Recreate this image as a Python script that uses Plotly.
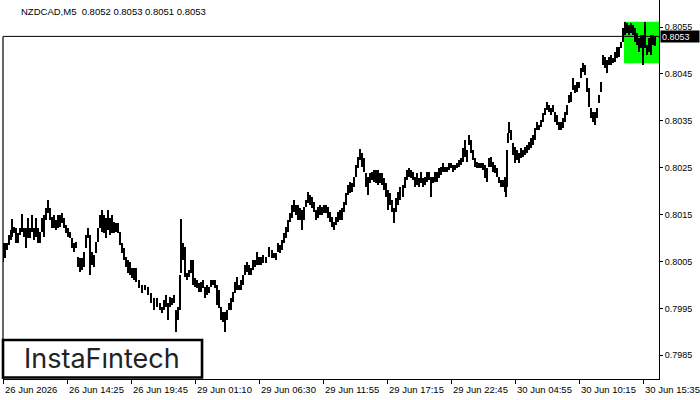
import plotly.graph_objects as go
import numpy as np

symbol_title = "NZDCAD,M5  0.8052 0.8053 0.8051 0.8053"
last_price = 0.8053
last_price_label = "0.8053"

# M5 bar number (from first bar on chart), sampled high / low
bar_no = [0, 2, 4, 6, 8, 9, 11, 13, 15, 17,
          19, 21, 23, 25, 27, 29, 31, 33, 35, 37,
          39, 41, 43, 45, 47, 49, 51, 53, 55, 57,
          59, 61, 63, 65, 67, 69, 71, 73, 75, 77,
          79, 81, 83, 85, 87, 89, 91, 93, 95, 97,
          99, 101, 103, 105, 107, 109, 111, 113, 115, 117,
          119, 121, 123, 125, 127, 129, 131, 133, 136, 139,
          142, 145, 148, 151, 154, 157, 159, 161, 163, 165,
          167, 169, 171, 173, 175, 177, 178, 180, 182, 184,
          186, 188, 190, 192, 194, 196, 198, 200, 202, 204,
          206, 208, 210, 212, 214, 216, 218, 220, 222, 224,
          226, 228, 230, 232, 234, 236, 238, 240, 242, 244,
          246, 248, 250, 252, 254, 256, 258, 260, 263, 266,
          269, 271, 273, 275, 277, 279, 281, 283, 285, 287,
          289, 291, 293, 295, 297, 299, 301, 303, 305, 307,
          309, 311, 313, 315, 317, 319, 321, 323, 325, 327,
          329, 331, 333, 335, 337, 339, 341, 343, 345, 347,
          349, 351, 353, 355, 357, 359, 361, 363, 365, 367,
          369, 371, 373, 375, 377, 379, 381, 383, 385, 387,
          389, 391, 393, 395, 397, 400, 402, 404, 406, 408,
          410, 412, 414, 416, 418, 420, 422, 424, 426, 428,
          430, 432, 434, 436, 438, 440, 442, 444, 446, 448,
          450, 452, 454, 456, 458, 460, 462, 464, 466, 468,
          470, 472, 474, 476, 478, 480, 482, 484, 486, 488,
          490, 492, 494, 496, 498, 500, 502, 503, 504, 505,
          506, 508, 510, 512, 514, 516, 518, 520, 522, 524,
          526, 528, 530, 532, 534, 536, 538, 540, 542, 544,
          546, 548, 550, 552, 554, 556, 558, 560, 562, 564,
          566, 568, 570, 572, 574, 576, 578, 580, 582, 584,
          586, 588, 590, 592, 594, 596, 598, 600, 602, 604,
          606, 608, 610, 612, 614, 616, 618, 620, 622, 624,
          626, 628, 630, 632, 634, 636, 638, 640, 642, 644,
          646, 648, 650, 652]

bar_high = [0.80089, 0.80089, 0.80089, 0.80107, 0.80117, 0.80141, 0.80124, 0.80121, 0.80111, 0.80121,
            0.80151, 0.80121, 0.80121, 0.80143, 0.80121, 0.80149, 0.80121, 0.80143, 0.80121, 0.80113,
            0.80143, 0.80149, 0.80164, 0.80181, 0.80164, 0.80145, 0.80149, 0.80139, 0.80149, 0.80149,
            0.80153, 0.80143, 0.80128, 0.80121, 0.80113, 0.80100, 0.80089, 0.80092, 0.80060, 0.80058,
            0.80058, 0.80070, 0.80107, 0.80121, 0.80107, 0.80070, 0.80064, 0.80092, 0.80121, 0.80149,
            0.80160, 0.80149, 0.80143, 0.80160, 0.80143, 0.80149, 0.80134, 0.80132, 0.80132, 0.80113,
            0.80089, 0.80079, 0.80060, 0.80054, 0.80049, 0.80036, 0.80036, 0.80036, 0.80011, 0.80000,
            0.80000, 0.79996, 0.79983, 0.79972, 0.79972, 0.79962, 0.79953, 0.79968, 0.79979, 0.79962,
            0.79974, 0.79972, 0.79979, 0.79947, 0.79953, 0.80021, 0.80141, 0.80089, 0.80081, 0.80026,
            0.80032, 0.80054, 0.80054, 0.80015, 0.80011, 0.80004, 0.80006, 0.80011, 0.79996, 0.80000,
            0.79996, 0.80011, 0.80011, 0.80011, 0.80000, 0.79989, 0.79953, 0.79942, 0.79942, 0.79947,
            0.79962, 0.79972, 0.79985, 0.80006, 0.80017, 0.80000, 0.80011, 0.80021, 0.80043, 0.80049,
            0.80043, 0.80036, 0.80054, 0.80054, 0.80070, 0.80060, 0.80060, 0.80064, 0.80060, 0.80081,
            0.80075, 0.80068, 0.80068, 0.80089, 0.80086, 0.80096, 0.80111, 0.80124, 0.80139, 0.80153,
            0.80170, 0.80181, 0.80170, 0.80170, 0.80164, 0.80160, 0.80166, 0.80181, 0.80198, 0.80192,
            0.80188, 0.80177, 0.80160, 0.80166, 0.80170, 0.80166, 0.80170, 0.80170, 0.80166, 0.80156,
            0.80145, 0.80134, 0.80145, 0.80156, 0.80160, 0.80164, 0.80177, 0.80196, 0.80213, 0.80220,
            0.80217, 0.80230, 0.80256, 0.80273, 0.80290, 0.80281, 0.80271, 0.80239, 0.80230, 0.80239,
            0.80241, 0.80245, 0.80245, 0.80245, 0.80239, 0.80239, 0.80228, 0.80217, 0.80202, 0.80196,
            0.80181, 0.80164, 0.80185, 0.80198, 0.80209, 0.80213, 0.80230, 0.80245, 0.80249, 0.80245,
            0.80241, 0.80230, 0.80239, 0.80228, 0.80241, 0.80228, 0.80230, 0.80241, 0.80241, 0.80230,
            0.80230, 0.80241, 0.80241, 0.80249, 0.80252, 0.80260, 0.80252, 0.80252, 0.80260, 0.80260,
            0.80256, 0.80256, 0.80260, 0.80266, 0.80271, 0.80292, 0.80309, 0.80288, 0.80320, 0.80309,
            0.80288, 0.80271, 0.80262, 0.80260, 0.80260, 0.80260, 0.80256, 0.80249, 0.80271, 0.80273,
            0.80262, 0.80256, 0.80249, 0.80230, 0.80224, 0.80224, 0.80230, 0.80224, 0.80288, 0.80324,
            0.80347, 0.80330, 0.80303, 0.80294, 0.80288, 0.80281, 0.80292, 0.80288, 0.80294, 0.80298,
            0.80305, 0.80313, 0.80320, 0.80335, 0.80347, 0.80341, 0.80352, 0.80367, 0.80377, 0.80390,
            0.80384, 0.80377, 0.80384, 0.80369, 0.80362, 0.80347, 0.80347, 0.80356, 0.80369, 0.80384,
            0.80405, 0.80411, 0.80441, 0.80426, 0.80433, 0.80433, 0.80463, 0.80473, 0.80469, 0.80441,
            0.80420, 0.80377, 0.80369, 0.80369, 0.80377, 0.80405, 0.80433, 0.80490, 0.80486, 0.80480,
            0.80486, 0.80490, 0.80484, 0.80497, 0.80507, 0.80507, 0.80518, 0.80548, 0.80561, 0.80559,
            0.80554, 0.80559, 0.80554, 0.80548, 0.80537, 0.80527, 0.80533, 0.80533, 0.80561, 0.80512,
            0.80527, 0.80533, 0.80533, 0.80530]

bar_low = [0.80049, 0.80058, 0.80075, 0.80086, 0.80096, 0.80102, 0.80111, 0.80089, 0.80089, 0.80107,
           0.80113, 0.80102, 0.80079, 0.80100, 0.80100, 0.80113, 0.80096, 0.80102, 0.80089, 0.80089,
           0.80113, 0.80102, 0.80139, 0.80153, 0.80139, 0.80121, 0.80121, 0.80117, 0.80121, 0.80124,
           0.80132, 0.80121, 0.80111, 0.80102, 0.80100, 0.80079, 0.80070, 0.80079, 0.80038, 0.80028,
           0.80032, 0.80038, 0.80079, 0.80100, 0.80021, 0.80043, 0.80038, 0.80068, 0.80092, 0.80121,
           0.80113, 0.80111, 0.80100, 0.80117, 0.80107, 0.80111, 0.80111, 0.80113, 0.80111, 0.80086,
           0.80068, 0.80054, 0.80038, 0.80026, 0.80021, 0.80015, 0.80011, 0.80006, 0.79994, 0.79983,
           0.79989, 0.79979, 0.79962, 0.79947, 0.79953, 0.79947, 0.79940, 0.79947, 0.79953, 0.79925,
           0.79953, 0.79957, 0.79962, 0.79900, 0.79925, 0.79947, 0.80026, 0.80054, 0.80017, 0.80011,
           0.80017, 0.80026, 0.80000, 0.79996, 0.79994, 0.79985, 0.79985, 0.79994, 0.79972, 0.79979,
           0.79983, 0.79996, 0.80000, 0.79994, 0.79957, 0.79951, 0.79925, 0.79921, 0.79900, 0.79925,
           0.79947, 0.79947, 0.79964, 0.79983, 0.79989, 0.79989, 0.79989, 0.80000, 0.80021, 0.80028,
           0.80021, 0.80021, 0.80032, 0.80038, 0.80043, 0.80043, 0.80043, 0.80047, 0.80047, 0.80060,
           0.80058, 0.80058, 0.80054, 0.80070, 0.80068, 0.80075, 0.80089, 0.80100, 0.80113, 0.80134,
           0.80143, 0.80156, 0.80149, 0.80139, 0.80139, 0.80117, 0.80139, 0.80166, 0.80175, 0.80170,
           0.80164, 0.80156, 0.80139, 0.80143, 0.80149, 0.80149, 0.80153, 0.80153, 0.80143, 0.80134,
           0.80124, 0.80117, 0.80128, 0.80134, 0.80139, 0.80139, 0.80156, 0.80170, 0.80192, 0.80196,
           0.80198, 0.80209, 0.80230, 0.80249, 0.80266, 0.80252, 0.80241, 0.80209, 0.80192, 0.80217,
           0.80224, 0.80220, 0.80217, 0.80213, 0.80217, 0.80213, 0.80202, 0.80188, 0.80160, 0.80170,
           0.80156, 0.80132, 0.80156, 0.80170, 0.80181, 0.80188, 0.80207, 0.80224, 0.80230, 0.80228,
           0.80224, 0.80209, 0.80213, 0.80209, 0.80217, 0.80209, 0.80213, 0.80220, 0.80224, 0.80188,
           0.80217, 0.80220, 0.80220, 0.80228, 0.80234, 0.80241, 0.80241, 0.80241, 0.80245, 0.80249,
           0.80241, 0.80245, 0.80249, 0.80252, 0.80256, 0.80262, 0.80273, 0.80262, 0.80298, 0.80281,
           0.80266, 0.80252, 0.80249, 0.80249, 0.80249, 0.80245, 0.80228, 0.80220, 0.80252, 0.80252,
           0.80241, 0.80239, 0.80230, 0.80217, 0.80209, 0.80209, 0.80198, 0.80188, 0.80209, 0.80303,
           0.80324, 0.80309, 0.80277, 0.80260, 0.80266, 0.80260, 0.80271, 0.80273, 0.80277, 0.80281,
           0.80288, 0.80292, 0.80298, 0.80309, 0.80330, 0.80330, 0.80337, 0.80347, 0.80362, 0.80373,
           0.80369, 0.80362, 0.80369, 0.80347, 0.80341, 0.80330, 0.80330, 0.80335, 0.80347, 0.80362,
           0.80388, 0.80390, 0.80416, 0.80409, 0.80411, 0.80420, 0.80441, 0.80454, 0.80448, 0.80411,
           0.80379, 0.80356, 0.80347, 0.80341, 0.80356, 0.80388, 0.80411, 0.80469, 0.80463, 0.80452,
           0.80469, 0.80469, 0.80473, 0.80475, 0.80484, 0.80486, 0.80505, 0.80518, 0.80533, 0.80537,
           0.80533, 0.80537, 0.80533, 0.80518, 0.80512, 0.80497, 0.80505, 0.80469, 0.80505, 0.80490,
           0.80497, 0.80490, 0.80512, 0.80510]

# time axis labels (bar number where each label sits)
time_tick_bar = [0, 64, 128, 192, 256, 320, 384, 448, 512, 576, 640]
time_tick_text = ["26 Jun 2026", "26 Jun 14:25", "26 Jun 19:45", "29 Jun 01:10",
                  "29 Jun 06:30", "29 Jun 11:55", "29 Jun 17:15", "29 Jun 22:45",
                  "30 Jun 04:55", "30 Jun 10:15", "30 Jun 15:35"]

price_ticks = [0.7985, 0.7995, 0.8005, 0.8015, 0.8025, 0.8035, 0.8045, 0.8055]
price_tick_text = ["0.7985", "0.7995", "0.8005", "0.8015", "0.8025", "0.8035", "0.8045", "0.8055"]

# pattern rectangle (bar range and price range)
rect_bar_start = 620.5
rect_price_low = 0.80473
rect_price_high = 0.80561

y_min, y_max = 0.797995, 0.806076
x_min, x_max = -0.5, 655.5

hi = np.array(bar_high)
lo = np.array(bar_low)

FONT = "Liberation Sans"

fig = go.Figure()
fig.add_trace(go.Bar(
    x=bar_no, y=hi - lo, base=lo, width=1.3,
    marker=dict(color="black", line=dict(width=0)),
    hoverinfo="skip", showlegend=False,
))

shapes = [
    dict(type="rect", xref="x", yref="y", x0=rect_bar_start, x1=x_max,
         y0=rect_price_low, y1=rect_price_high, fillcolor="#00ff00",
         line=dict(width=0), layer="below"),
    dict(type="line", xref="paper", yref="y", x0=0, x1=1, y0=last_price, y1=last_price,
         line=dict(color="black", width=1), layer="above"),
    dict(type="line", xref="paper", yref="y", x0=0, x1=0, y0=y_min, y1=last_price,
         line=dict(color="black", width=1.2), layer="above"),
    dict(type="rect", xref="paper", yref="paper", x0=0.0, x1=0.3034, y0=0.004, y1=0.1029,
         fillcolor="white", line=dict(color="black", width=2.6), layer="above"),
]

annotations = []
for b, t in zip(time_tick_bar, time_tick_text):
    annotations.append(dict(x=b, y=0, xref="x", yref="paper", text=t, showarrow=False,
                            xanchor="left", yanchor="top", yshift=-3, xshift=-1,
                            font=dict(family=FONT, size=9.5, color="black")))
annotations.append(dict(x=0.025, y=1, xref="paper", yref="paper", text=symbol_title,
                        showarrow=False, xanchor="left", yanchor="top", yshift=-4,
                        font=dict(family=FONT, size=9.5, color="black")))
annotations.append(dict(x=1, y=last_price, xref="paper", yref="y", text=last_price_label,
                        showarrow=False, xanchor="left", yanchor="middle", xshift=1, yshift=-0.5,
                        bgcolor="black", width=36, height=9, align="left", borderpad=1,
                        font=dict(family=FONT, size=9, color="white")))
annotations.append(dict(x=0.1515, y=0.053, xref="paper", yref="paper", text="InstaFıntech",
                        showarrow=False, xanchor="center", yanchor="middle",
                        font=dict(family="Inter", size=27, color="#222222")))

fig.update_layout(
    width=700, height=400,
    margin=dict(l=3, r=41, t=0, b=21),
    paper_bgcolor="white", plot_bgcolor="white",
    bargap=0,
    shapes=shapes, annotations=annotations,
    xaxis=dict(range=[x_min, x_max], showgrid=False, zeroline=False,
               showline=True, linecolor="black", linewidth=1,
               tickmode="array", tickvals=time_tick_bar, ticktext=[""] * len(time_tick_bar),
               ticks="outside", ticklen=4, tickcolor="black", tickwidth=1),
    yaxis=dict(range=[y_min, y_max], side="right", showgrid=False, zeroline=False,
               showline=True, linecolor="black", linewidth=1,
               tickmode="array", tickvals=price_ticks, ticktext=price_tick_text,
               ticks="outside", ticklen=3, tickcolor="black", tickwidth=1,
               tickfont=dict(family=FONT, size=9, color="black")),
)

fig.write_html("out.html")
